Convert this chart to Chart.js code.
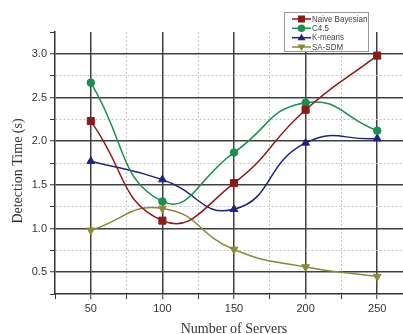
<!DOCTYPE html>
<html>
<head>
<meta charset="utf-8">
<script src="https://cdn.jsdelivr.net/npm/chart.js@4.4.0/dist/chart.umd.min.js"></script>
<style>
  html, body { margin: 0; padding: 0; background: #fff; overflow: hidden; }
  #wrap { width: 420px; height: 334px; }
</style>
</head>
<body>
<div id="wrap"><canvas id="chart" width="420" height="334"></canvas></div>
<script>
// values
const servers = [50, 100, 150, 200, 250];
const naiveBayes = [2.23, 1.09, 1.52, 2.36, 2.98];
const c45 = [2.67, 1.31, 1.87, 2.44, 2.12];
const kMeans = [1.77, 1.56, 1.22, 1.98, 2.03];
const saSdm = [0.98, 1.23, 0.76, 0.56, 0.45];

const seriesNames = ['Naive Bayesian', 'C4.5', 'K-means', 'SA-SDM'];
const seriesColors = ['#8b1a1a', '#1a8f4f', '#1c2380', '#8a8a3a'];
const xTickLabels = ['50', '100', '150', '200', '250'];
const yTickLabels = ['0.5', '1.0', '1.5', '2.0', '2.5', '3.0'];
const yTitle = 'Detection Time (s)';

function toPoints(vals) {
  return servers.map((s, i) => ({ x: s, y: vals[i] }));
}

function makeSet(idx, vals, style, radius, rot) {
  return {
    label: seriesNames[idx],
    data: toPoints(vals),
    borderColor: seriesColors[idx],
    backgroundColor: seriesColors[idx],
    borderWidth: 1.5,
    tension: 0.5,
    pointStyle: style,
    pointRadius: radius,
    pointRotation: rot || 0,
    pointBorderWidth: 1,
    pointBackgroundColor: seriesColors[idx],
    pointBorderColor: seriesColors[idx]
  };
}

const majorGrid = '#404040';
const minorGrid = '#c4c4c4';

// legend box inside the plot (top right) + y title a bit below centre like the original
const boxLegend = {
  id: 'boxLegend',
  afterDraw(chart) {
    const ctx = chart.ctx;
    ctx.save();
    ctx.fillStyle = '#fff';
    ctx.fillRect(284, 12, 85, 40);
    ctx.strokeStyle = '#999';
    ctx.lineWidth = 1;
    ctx.strokeRect(284.5, 12.5, 84, 39);
    ctx.font = '9.5px "Liberation Sans", Arial, sans-serif';
    ctx.textBaseline = 'middle';
    const rows = [19, 28.3, 37.7, 47];
    chart.data.datasets.forEach((ds, i) => {
      const y = rows[i];
      ctx.strokeStyle = ds.borderColor;
      ctx.fillStyle = ds.borderColor;
      ctx.lineWidth = 1.5;
      ctx.beginPath();
      ctx.moveTo(292, y);
      ctx.lineTo(311, y);
      ctx.stroke();
      const cx = 301.5;
      ctx.beginPath();
      if (ds.pointStyle === 'rect') {
        ctx.rect(cx - 3.5, y - 3.5, 7, 7);
      } else if (ds.pointStyle === 'circle') {
        ctx.arc(cx, y, 3.8, 0, Math.PI * 2);
      } else if (ds.pointRotation === 180) {
        ctx.moveTo(cx - 4, y - 2.5);
        ctx.lineTo(cx + 4, y - 2.5);
        ctx.lineTo(cx, y + 4);
      } else {
        ctx.moveTo(cx - 4, y + 2.5);
        ctx.lineTo(cx + 4, y + 2.5);
        ctx.lineTo(cx, y - 4);
      }
      ctx.closePath();
      ctx.fill();
      ctx.fillStyle = '#444';
      const w = ctx.measureText(ds.label).width;
      ctx.fillText(ds.label, 312, y, w * 0.84);
    });

    ctx.translate(18, 171);
    ctx.rotate(-Math.PI / 2);
    ctx.font = '14px "Liberation Serif", "Times New Roman", serif';
    ctx.fillStyle = '#333';
    ctx.textAlign = 'center';
    ctx.textBaseline = 'middle';
    ctx.fillText(yTitle, 0, 0);
    ctx.restore();
  }
};

function isMajor(v, step) {
  return Math.abs(v / step - Math.round(v / step)) < 1e-6;
}

const ctx = document.getElementById('chart').getContext('2d');
const chart = new Chart(ctx, {
  type: 'line',
  data: {
    datasets: [
      makeSet(0, naiveBayes, 'rect', 5),
      makeSet(1, c45, 'circle', 3.8),
      makeSet(2, kMeans, 'triangle', 4.5),
      makeSet(3, saSdm, 'triangle', 4.5, 180)
    ]
  },
  plugins: [boxLegend],
  options: {
    responsive: false,
    animation: false,
    layout: { padding: { top: 32, right: 7, left: 0, bottom: 0 } },
    plugins: { legend: { display: false }, tooltip: { enabled: false } },
    scales: {
      x: {
        type: 'linear',
        min: 25,
        max: 275,
        afterFit(scale) { scale.height = 40; },
        ticks: {
          stepSize: 25,
          autoSkip: false,
          maxRotation: 0,
          color: '#333',
          font: { family: '"Liberation Sans", Arial, sans-serif', size: 11 },
          padding: 3,
          callback(v) {
            const s = String(v);
            return xTickLabels.includes(s) ? s : '';
          }
        },
        grid: {
          color(c) {
            const v = c.tick ? c.tick.value : null;
            if (v === null || v <= 25 || v >= 275) return 'rgba(0,0,0,0)';
            return isMajor(v, 50) ? majorGrid : minorGrid;
          },
          lineWidth(c) {
            const v = c.tick ? c.tick.value : 0;
            return isMajor(v, 50) ? 1.5 : 1;
          },
          tickColor: '#333',
          tickLength: 5,
          tickWidth: 1
        },
        border: {
          display: true,
          color: '#333',
          width: 1.5,
          dash(c) {
            if (!c.tick) return [];
            return isMajor(c.tick.value, 50) ? [] : [2, 2];
          }
        },
        title: {
          display: true,
          text: 'Number of Servers',
          color: '#333',
          font: { family: '"Liberation Serif", "Times New Roman", serif', size: 14 },
          padding: { top: 0, bottom: -4 }
        }
      },
      y: {
        type: 'linear',
        min: 0.25,
        max: 3.25,
        afterFit(scale) { scale.width = 55; },
        ticks: {
          stepSize: 0.25,
          autoSkip: false,
          color: '#333',
          font: { family: '"Liberation Sans", Arial, sans-serif', size: 11 },
          padding: 3,
          callback(v) {
            const s = Number(v).toFixed(1);
            return isMajor(v, 0.5) && yTickLabels.includes(s) ? s : '';
          }
        },
        grid: {
          color(c) {
            const v = c.tick ? c.tick.value : null;
            if (v === null || v <= 0.26 || v >= 3.24) return 'rgba(0,0,0,0)';
            return isMajor(v, 0.5) ? majorGrid : minorGrid;
          },
          lineWidth(c) {
            const v = c.tick ? c.tick.value : 0;
            return isMajor(v, 0.5) ? 1.5 : 1;
          },
          tickColor: '#333',
          tickLength: 5,
          tickWidth: 1
        },
        border: {
          display: true,
          color: '#333',
          width: 1.5,
          dash(c) {
            if (!c.tick) return [];
            return isMajor(c.tick.value, 0.5) ? [] : [2, 2];
          }
        },
        title: { display: false }
      }
    }
  }
});
</script>
</body>
</html>
